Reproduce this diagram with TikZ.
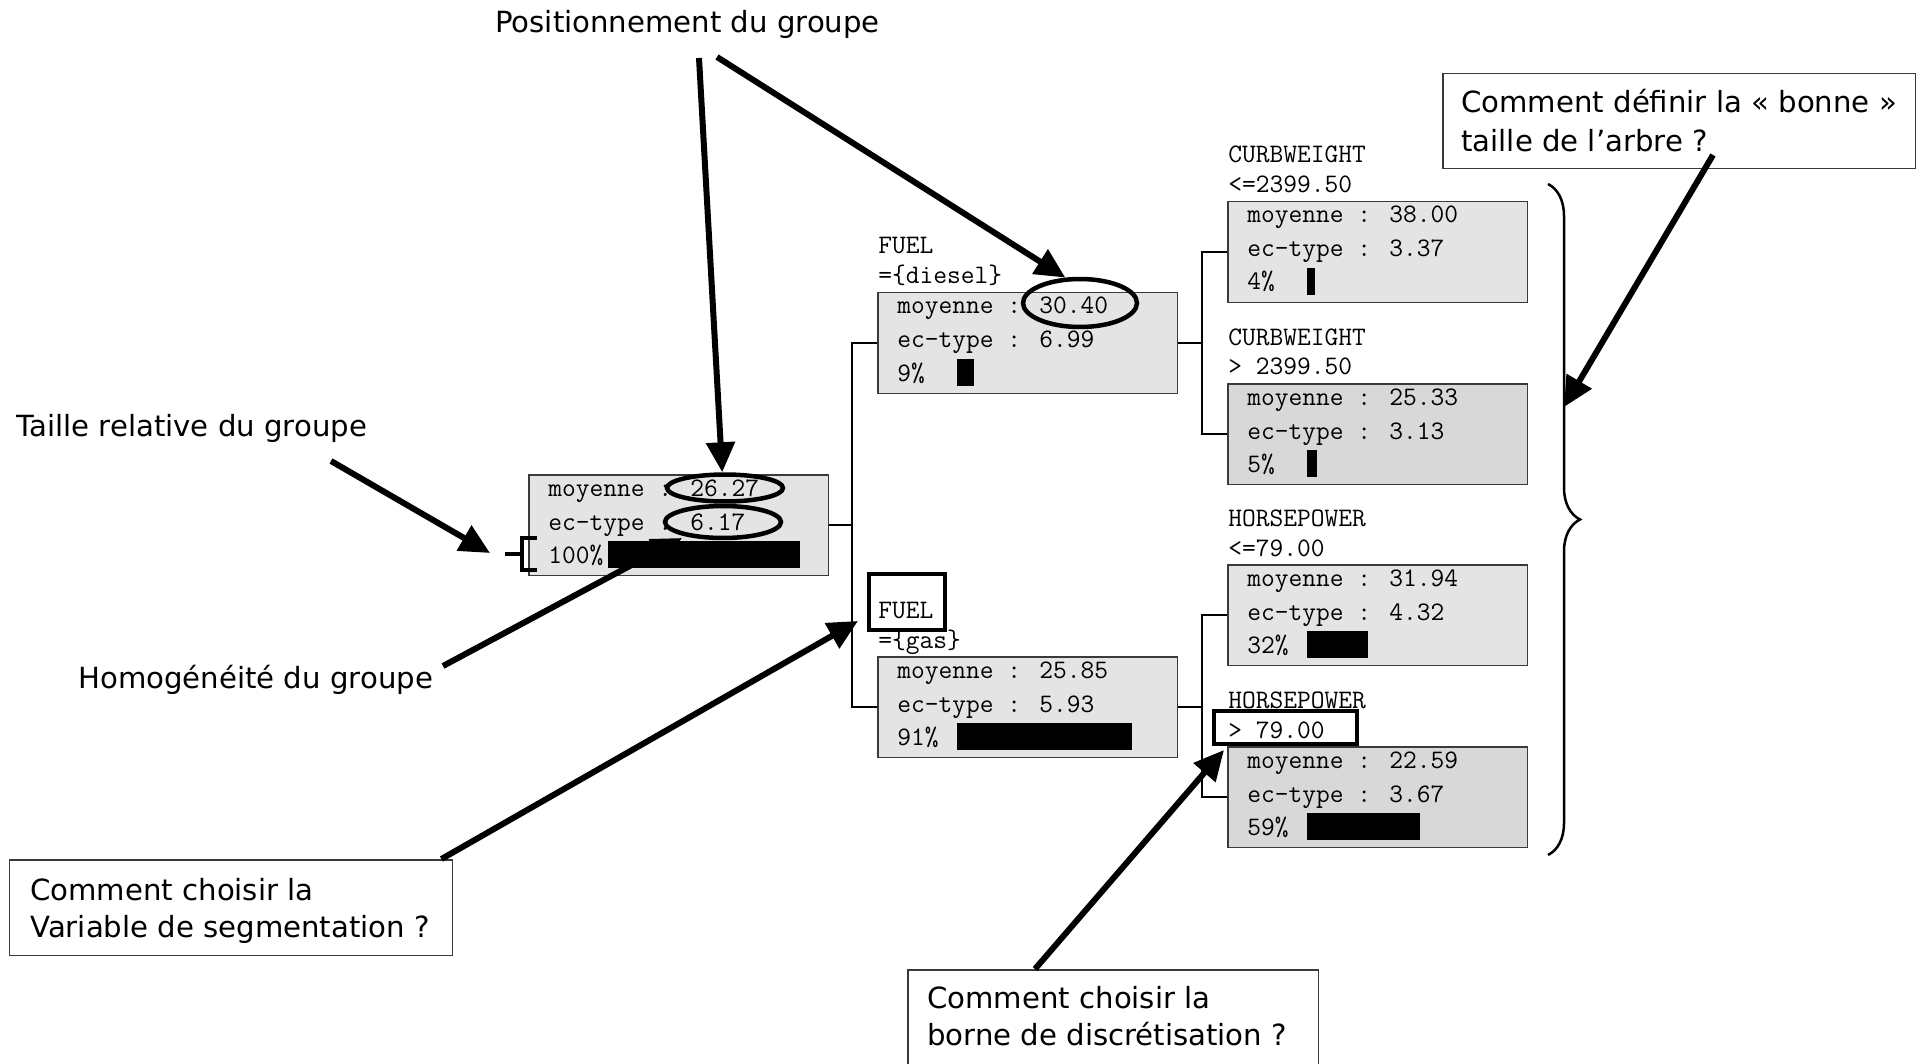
\documentclass[tikz,border=0pt]{standalone}
\usepackage{fontspec}
\setmainfont{DejaVu Sans}
\usetikzlibrary{arrows.meta,shapes.geometric,decorations.pathreplacing}
\definecolor{boxlight}{HTML}{E4E4E4}
\definecolor{boxdark}{HTML}{D8D8D8}
\definecolor{edge}{HTML}{3A3A3A}
\newcommand{\treebox}[9]{%
	\node[tnode,fill=#4,anchor=north west] (#1) at (#2,#3) {};
	\node[mono] at ([shift={(1,-38)}]#1.north west) {#5};
	\node[mono] at ([shift={(1,-8)}]#1.north west) {#6};
	\node[mono] at ([shift={(20,22)}]#1.north west) {moyenne : #7};
	\node[mono] at ([shift={(20,56)}]#1.north west) {ec-type : #8};
	\node[mono] at ([shift={(20,89)}]#1.north west) {#9\%};
}
\begin{document}
\begin{tikzpicture}[x=0.02cm,y=-0.02cm,>={Triangle[length=0.6cm,width=0.56cm]},
		tnode/.style={draw=edge,line width=0.03cm,minimum width=6cm,minimum height=2.02cm,inner sep=0pt},
		mono/.style={font=\ttfamily\fontsize{15.2}{18}\selectfont,anchor=base west,inner sep=0pt},
		comic/.style={font=\fontsize{16.6}{21}\selectfont,anchor=base west,inner sep=0pt},
		qbox/.style={draw=edge,line width=0.03cm,inner sep=0pt,anchor=north west},
		conn/.style={line width=0.03cm},
		ring/.style={ellipse,draw,line width=0.09cm,inner sep=0pt},
		hilite/.style={draw,line width=0.08cm,inner sep=0pt,anchor=north west},
		pointer/.style={->,line width=0.12cm}]
	\useasboundingbox (0,0) rectangle (1921,1064);
	% questions
	\node[comic] (posq) at (495,33) {Positionnement du groupe};
	\node[comic] (tailq) at (16,436) {Taille relative du groupe};
	\node[comic] (homq) at (78,688) {Homogénéité du groupe};
	\node[qbox,minimum width=8.86cm,minimum height=1.92cm] (varq) at (9,859) {};
	\node[comic] at (30,900) {Comment choisir la};
	\node[comic] at (30,937) {Variable de segmentation ?};
	\node[qbox,minimum width=8.22cm,minimum height=2.4cm] (bornq) at (907,969) {};
	\node[comic] at (927,1008) {Comment choisir la};
	\node[comic] at (927,1045) {borne de discrétisation ?};
	\node[qbox,minimum width=9.46cm,minimum height=1.9cm] (tailleq) at (1442,73) {};
	\node[comic] at (1461,113) {Comment définir la « bonne »};
	\node[comic] at (1461,152) {taille de l’arbre ?};
	% tree
	\treebox{root}{528}{474}{boxlight}{}{}{26.27}{6.17}{100}
	\treebox{diesel}{877}{292}{boxlight}{FUEL}{=\{diesel\}}{30.40}{6.99}{9}
	\treebox{gas}{877}{656}{boxlight}{FUEL}{=\{gas\}}{25.85}{5.93}{91}
	\treebox{cwlow}{1227}{201}{boxlight}{CURBWEIGHT}{<=2399.50}{38.00}{3.37}{4}
	\treebox{cwhigh}{1227}{383}{boxdark}{CURBWEIGHT}{> 2399.50}{25.33}{3.13}{5}
	\treebox{hplow}{1227}{564}{boxlight}{HORSEPOWER}{<=79.00}{31.94}{4.32}{32}
	\treebox{hphigh}{1227}{746}{boxdark}{HORSEPOWER}{> 79.00}{22.59}{3.67}{59}
	\draw[conn] (root.east) -- ++(24,0);
	\draw[conn] (diesel.west) -- ++(-25,0) |- (gas.west);
	\draw[conn] (diesel.east) -- ++(24,0);
	\draw[conn] (cwlow.west) -- ++(-25,0) |- (cwhigh.west);
	\draw[conn] (gas.east) -- ++(25,0);
	\draw[conn] (hplow.west) -- ++(-25,0) |- (hphigh.west);
	\node[hilite,minimum width=1.52cm,minimum height=1.12cm] (fuelmark) at (867,572) {};
	\node[hilite,minimum width=2.86cm,minimum height=0.66cm] (cutmark) at (1212,709) {};
	\node[ring,minimum width=2.32cm,minimum height=0.54cm] (mean0) at (725,488) {};
	\node[ring,minimum width=2.32cm,minimum height=0.64cm] (sd0) at (723,522) {};
	\node[ring,minimum width=2.28cm,minimum height=0.96cm] (mean1) at (1080,303) {};
	% arrows
	\coordinate (posstart) at (699,58);
	\coordinate (posstart2) at (717,57);
	\coordinate (tailstart) at (331,461);
	\coordinate (tailtip) at (490,553);
	\coordinate (homstart) at (443,666);
	\coordinate (homtip) at (682,538);
	\coordinate (bracetip) at (1564,407);
	\draw[pointer] (posstart) -- (mean0.100);
	\draw[pointer] (posstart2) -- (mean1.120);
	\draw[pointer] (tailstart) -- (tailtip);
	\draw[pointer] (homstart) -- (homtip);
	\draw[pointer] ([shift={(-12,0)}]varq.north east) -- ([shift={(-9,-11)}]fuelmark.south west);
	\draw[pointer] ([shift={(128,0)}]bornq.north west) -- ([shift={(12,4)}]cutmark.south west);
	\draw[pointer] ([shift={(271,82)}]tailleq.north west) -- (bracetip);
	\foreach \nd/\pct in {root/100,diesel/9,gas/91,cwlow/4,cwhigh/5,hplow/32,hphigh/59}
		\fill ([shift={(80,67)}]\nd.north west) rectangle ++(1.92*\pct,27);
	% braces
	\draw[line width=0.08cm] (537,538) -- (522,538) -- (522,570) -- (537,570) (522,554) -- (505,554);
	\draw[decorate,decoration={brace,amplitude=0.64cm},line width=0.05cm] (1548,184) -- (1548,855);
\end{tikzpicture}
\end{document}
